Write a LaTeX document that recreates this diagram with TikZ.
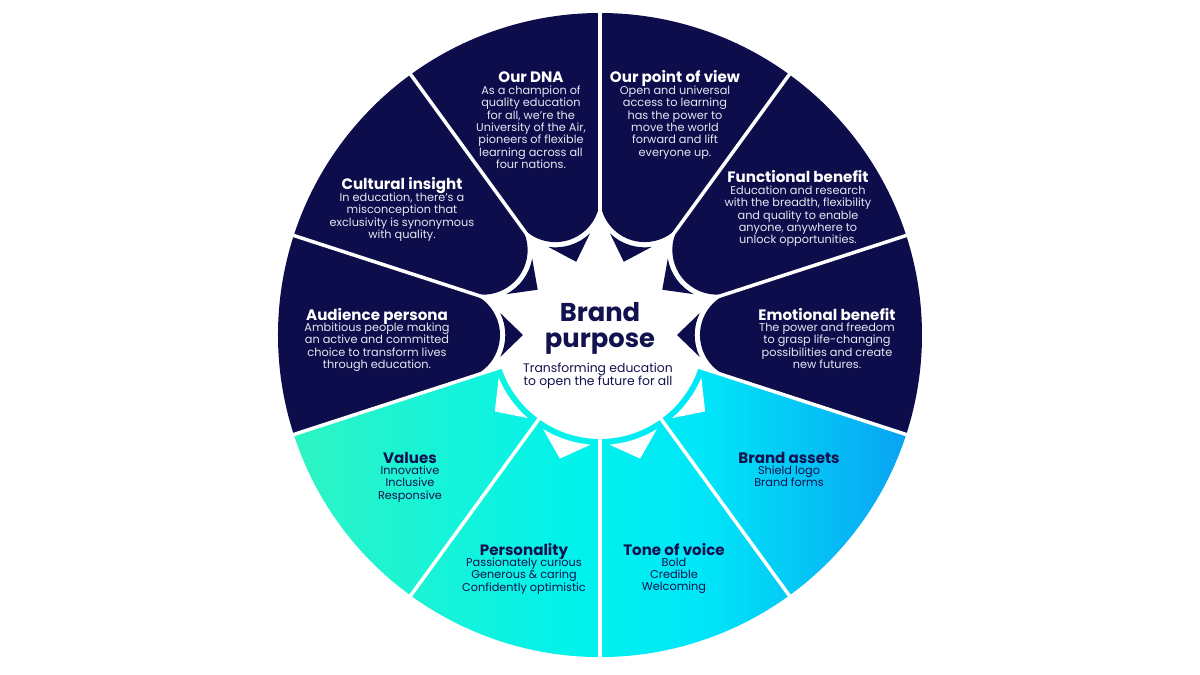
\documentclass[tikz,border=0pt]{standalone}
\usepackage{fontspec}
\setmainfont{Poppins}
\definecolor{navy}{HTML}{0E0D4B}
\definecolor{navytext}{HTML}{12124F}
\definecolor{softwhite}{HTML}{E6E6F2}
\definecolor{gleft}{HTML}{30F4C0}
\definecolor{gmid}{HTML}{00F2EE}
\definecolor{gmidb}{HTML}{00E6F8}
\definecolor{gright}{HTML}{0A9EF2}
\pgfdeclarehorizontalshading{wheelgrad}{100bp}{color(0bp)=(gleft); color(25bp)=(gleft); color(49bp)=(gmid); color(58bp)=(gmidb); color(75bp)=(gright); color(100bp)=(gright)}
\begin{document}
\begin{tikzpicture}[x=1pt,y=1pt,
  ttl/.style={font=\fontsize{15.1}{16}\selectfont\bfseries, anchor=base, inner sep=0pt},
  bdy/.style={font=\fontsize{11.3}{12.4}\selectfont, align=center, anchor=north, inner sep=0pt},
  ondark/.style={text=white},
  ondarkbody/.style={text=softwhite},
  onlight/.style={text=navytext},
  sepline/.style={white, line width=3.5pt}
]
\useasboundingbox (-600,-340) rectangle (600,335);
\fill[white] (-600,-340) rectangle (600,335);

% lower gradient sector
\begin{scope}
  \clip (198:104pt) -- (198:322pt) arc[start angle=198, end angle=342, radius=322pt]
        -- (342:104pt) arc[start angle=342, end angle=198, radius=104pt] -- cycle;
  \shade[shading=wheelgrad] (-323,-323) rectangle (323,0);
\end{scope}

% upper dark petals
\foreach \m in {0,36,72,108,144,180}{
  \fill[navy] (\m-18:322pt) arc[start angle=\m-18, end angle=\m+18, radius=322pt]
     -- (\m+18:137.6pt) arc[start angle=\m+108, end angle=\m+252, radius=44.7pt] -- cycle;
}

% separators
\foreach \a in {18,54,90,126,162,198,234,270,306,342}{
  \draw[sepline] (\a:60pt) -- (\a:330pt);
}

% white arrowheads in lower segments (pointing outward)
\foreach \m in {216,252,288,324}{
  \fill[white] (\m-13.1:110pt) arc[start angle=\m-13.1, end angle=\m+13.1, radius=110pt]
     -- (\m:130pt) -- cycle;
}

% dark arrowheads in upper part (pointing inward)
\foreach \m in {0,36,72,108,144,180}{
  \fill[navy] (\m:77pt) -- ([shift={(\m:144.7pt)}]\m+153.9:50pt)
     arc[start angle=\m+153.9, end angle=\m+206.1, radius=50pt] -- cycle;
}

% centre
\node[inner sep=0pt, anchor=north, align=center, text=navytext,
      font=\fontsize{25.8}{26}\selectfont\bfseries] (bp) at (0,33) {Brand\\purpose};
\node[inner sep=0pt, anchor=north, align=center, text=navytext,
      font=\fontsize{12.4}{13}\selectfont] (bps) at (-2,-28) {Transforming education\\to open the future for all};

% upper texts
\node[ttl, ondark] (dnaT) at (-69,252) {Our DNA};
\node[bdy, ondarkbody] (dnaB) at ([yshift=-2.5pt]dnaT.base) {As a champion of\\quality education\\for all, we're the\\University of the Air,\\pioneers of flexible\\learning across all\\four nations.};

\node[ttl, ondark] (povT) at (75,252) {Our point of view};
\node[bdy, ondarkbody] (povB) at ([yshift=-2.5pt]povT.base) {Open and universal\\access to learning\\has the power to\\move the world\\forward and lift\\everyone up.};

\node[ttl, ondark] (ciT) at (-198,145) {Cultural insight};
\node[bdy, ondarkbody] (ciB) at ([yshift=-2.5pt]ciT.base) {In education, there's a\\misconception that\\exclusivity is synonymous\\with quality.};

\node[ttl, ondark] (apT) at (-223,15) {Audience persona};
\node[bdy, ondarkbody] (apB) at ([yshift=-2.5pt]apT.base) {Ambitious people making\\an active and committed\\choice to transform lives\\through education.};

\node[ttl, ondark] (fbT) at (198,152) {Functional benefit};
\node[bdy, ondarkbody] (fbB) at ([yshift=-2.5pt]fbT.base) {Education and research\\with the breadth, flexibility\\and quality to enable\\anyone, anywhere to\\unlock opportunities.};

\node[ttl, ondark] (ebT) at (227,15) {Emotional benefit};
\node[bdy, ondarkbody] (ebB) at ([yshift=-2.5pt]ebT.base) {The power and freedom\\to grasp life-changing\\possibilities and create\\new futures.};

% lower texts
\node[ttl, onlight] (vaT) at (-190,-128) {Values};
\node[bdy, onlight] (vaB) at ([yshift=-2.5pt]vaT.base) {Innovative\\Inclusive\\Responsive};

\node[ttl, onlight] (baT) at (189,-128) {Brand assets};
\node[bdy, onlight] (baB) at ([yshift=-2.5pt]baT.base) {Shield logo\\Brand forms};

\node[ttl, onlight] (peT) at (-76,-220) {Personality};
\node[bdy, onlight] (peB) at ([yshift=-2.5pt]peT.base) {Passionately curious\\Generous \& caring\\Confidently optimistic};

\node[ttl, onlight] (tvT) at (74,-220) {Tone of voice};
\node[bdy, onlight] (tvB) at ([yshift=-2.5pt]tvT.base) {Bold\\Credible\\Welcoming};
\end{tikzpicture}
\end{document}
